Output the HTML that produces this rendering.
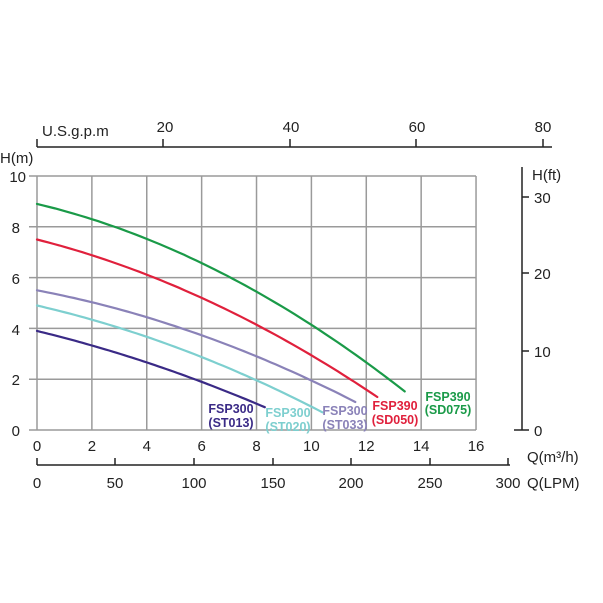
<!DOCTYPE html>
<html><head><meta charset="utf-8"><style>
html,body{margin:0;padding:0;background:#fff;}
svg{display:block;font-family:"Liberation Sans",Arial,sans-serif;}
</style></head><body>
<svg id="s" width="603" height="603" viewBox="0 0 603 603" xmlns="http://www.w3.org/2000/svg">
<g id="grid" stroke="#9a9a9a" stroke-width="1.5" fill="none"></g>
<g id="curves" fill="none" stroke-width="2.2" stroke-linecap="round"></g>
<g stroke="#222" stroke-width="1.5" fill="none">
<line x1="37" y1="147" x2="552" y2="147"/>
<line x1="37" y1="139" x2="37" y2="147"/>
<line x1="163" y1="139" x2="163" y2="147"/>
<line x1="290" y1="139" x2="290" y2="147"/>
<line x1="416" y1="139" x2="416" y2="147"/>
<line x1="543" y1="139" x2="543" y2="147"/>
<line x1="522" y1="167" x2="522" y2="430"/>
<line x1="522" y1="197" x2="529" y2="197"/>
<line x1="522" y1="273" x2="529" y2="273"/>
<line x1="522" y1="351" x2="529" y2="351"/>
<line x1="514" y1="430" x2="529" y2="430"/>
<line x1="37" y1="465" x2="510" y2="465"/>
<line x1="37" y1="458" x2="37" y2="465"/>
<line x1="115" y1="458" x2="115" y2="465"/>
<line x1="194" y1="458" x2="194" y2="465"/>
<line x1="273" y1="458" x2="273" y2="465"/>
<line x1="351" y1="458" x2="351" y2="465"/>
<line x1="430" y1="458" x2="430" y2="465"/>
<line x1="508" y1="458" x2="508" y2="465"/>
</g>
<g font-size="15" fill="#222">
<text x="42" y="136">U.S.g.p.m</text>
<text x="165" y="132" text-anchor="middle">20</text>
<text x="291" y="132" text-anchor="middle">40</text>
<text x="417" y="132" text-anchor="middle">60</text>
<text x="543" y="132" text-anchor="middle">80</text>
<text x="0" y="163">H(m)</text>
<text x="532" y="180">H(ft)</text>
<text x="534" y="203">30</text>
<text x="534" y="279">20</text>
<text x="534" y="357">10</text>
<text x="534" y="436">0</text>
<text x="26" y="182" text-anchor="end">10</text>
<text x="20" y="233" text-anchor="end">8</text>
<text x="20" y="284" text-anchor="end">6</text>
<text x="20" y="335" text-anchor="end">4</text>
<text x="20" y="385" text-anchor="end">2</text>
<text x="20" y="436" text-anchor="end">0</text>
<g id="xl" text-anchor="middle"></g>
<text x="37" y="488" text-anchor="middle">0</text>
<text x="115" y="488" text-anchor="middle">50</text>
<text x="194" y="488" text-anchor="middle">100</text>
<text x="273" y="488" text-anchor="middle">150</text>
<text x="351" y="488" text-anchor="middle">200</text>
<text x="430" y="488" text-anchor="middle">250</text>
<text x="508" y="488" text-anchor="middle">300</text>
<text x="527" y="462">Q(m³/h)</text>
<text x="527" y="488">Q(LPM)</text>
</g>
<g font-size="12.5" font-weight="bold" text-anchor="middle">
<text x="231" y="413" fill="#3a2a86">FSP300</text><text x="231" y="427" fill="#3a2a86">(ST013)</text>
<text x="288" y="417" fill="#7dcfcf">FSP300</text><text x="288" y="431" fill="#7dcfcf">(ST020)</text>
<text x="345" y="415" fill="#8a82b8">FSP300</text><text x="345" y="429" fill="#8a82b8">(ST033)</text>
<text x="395" y="410" fill="#e0203c">FSP390</text><text x="395" y="424" fill="#e0203c">(SD050)</text>
<text x="448" y="401" fill="#1a9a48">FSP390</text><text x="448" y="414" fill="#1a9a48">(SD075)</text>
</g>
</svg>
<script>
var X=q=>37+q*27.44, Y=h=>430-h*25.4, ns="http://www.w3.org/2000/svg";
var g=document.getElementById('grid');
function ln(p,a,b,c,d){var l=document.createElementNS(ns,'line');l.setAttribute('x1',a);l.setAttribute('y1',b);l.setAttribute('x2',c);l.setAttribute('y2',d);p.appendChild(l);}
for(var i=0;i<=8;i++)ln(g,X(2*i),176,X(2*i),430);
for(var j=0;j<=5;j++)ln(g,29,Y(2*j),476,Y(2*j));
var xl=document.getElementById('xl');
for(var i=0;i<=8;i++){var t=document.createElementNS(ns,'text');t.setAttribute('x',X(2*i));t.setAttribute('y',451);t.textContent=2*i;xl.appendChild(t);}
var cs=[["#1a9a48",8.9,0.256,0.022,13.4],["#e0203c",7.5,0.273,0.0183,12.4],["#8a82b8",5.5,0.205,0.015,11.6],["#7dcfcf",4.9,0.248,0.015,10.4],["#3a2a86",3.9,0.262,0.012,8.3]];
var cg=document.getElementById('curves');
cs.forEach(c=>{var d="";for(var k=0;k<=60;k++){var q=c[4]*k/60,h=c[1]-c[2]*q-c[3]*q*q;d+=(k?"L":"M")+X(q).toFixed(1)+","+Y(h).toFixed(1);}
var p=document.createElementNS(ns,'path');p.setAttribute('d',d);p.setAttribute('stroke',c[0]);cg.appendChild(p);});
</script>
</body></html>
